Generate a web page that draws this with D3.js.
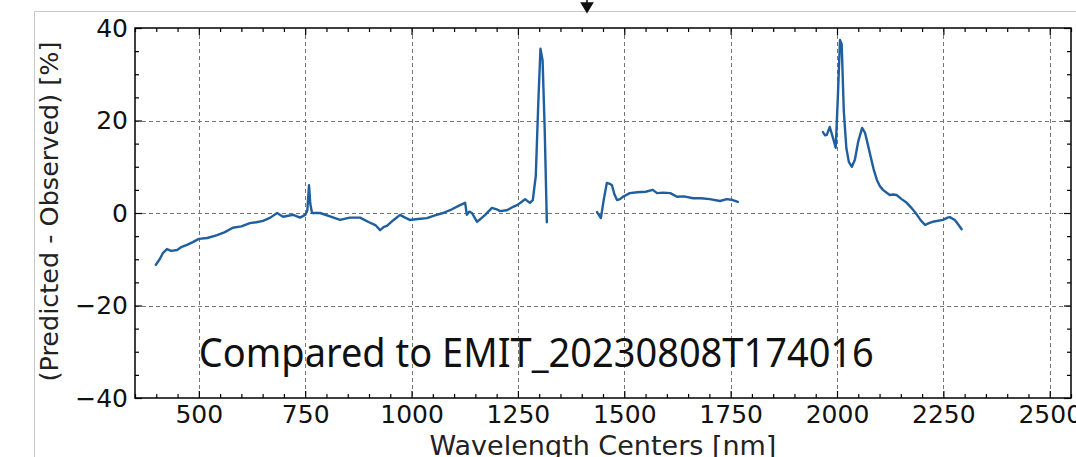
<!DOCTYPE html>
<html>
<head>
<meta charset="utf-8">
<script src="https://cdn.jsdelivr.net/npm/d3@7"></script>
<style>
  html, body { margin: 0; padding: 0; background: #fff; overflow: hidden; }
  svg { display: block; }
</style>
</head>
<body>
<svg id="chart" width="1076" height="457"></svg>
<script>
// Residual spectrum, three valid windows separated by water-absorption gaps
const seg1Wavelength = [399,408,416,425,435,449,460,472,486,500,520,543,560,580,600,620,635,651,668,684,698,710,722,738,750,755,759,762,766,785,810,832,855,879,900,915,926,935,942,958,973,985,996,1015,1036,1055,1074,1095,1114,1126,1130,1136,1142,1154,1163,1173,1189,1200,1208,1224,1236,1248,1260,1267,1278,1285,1292,1298,1303,1308,1313,1318];
const seg1Difference = [-11.2,-10.0,-8.6,-7.8,-8.2,-8.0,-7.3,-6.9,-6.3,-5.6,-5.4,-4.8,-4.2,-3.2,-2.9,-2.2,-2.0,-1.7,-1.0,0.0,-0.8,-0.6,-0.4,-1.0,-0.4,0.5,6.0,2.0,0.0,0.0,-0.8,-1.5,-1.0,-1.0,-2.0,-2.6,-3.7,-3.0,-2.8,-1.5,-0.4,-1.0,-1.5,-1.3,-1.1,-0.5,0.0,0.8,1.7,2.2,-0.4,0.3,0.0,-1.9,-1.2,-0.4,1.1,0.8,0.4,0.6,1.2,1.7,2.5,3.0,2.2,2.8,8.0,24.0,35.5,33.0,18.0,-2.0];

const seg2Wavelength = [1436,1445,1452,1459,1466,1471,1477,1483,1490,1497,1513,1530,1550,1567,1577,1592,1608,1624,1640,1662,1680,1701,1725,1741,1755,1767];
const seg2Difference = [0.2,-1.1,3.0,6.5,6.3,6.0,4.0,2.8,3.0,3.5,4.3,4.5,4.6,5.0,4.3,4.4,4.3,3.5,3.6,3.2,3.2,3.0,2.6,3.0,2.8,2.4];

const seg3Wavelength = [1967,1972,1976,1983,1990,1997,2002,2007,2011,2016,2022,2028,2035,2042,2050,2059,2066,2072,2077,2086,2094,2101,2108,2124,2132,2140,2152,2164,2176,2188,2197,2207,2216,2225,2249,2260,2265,2277,2285,2293];
const seg3Difference = [17.5,16.8,16.9,18.6,16.4,14.1,25.0,37.4,36.5,22.0,14.0,11.0,10.0,11.5,15.5,18.4,17.3,15.0,13.0,9.5,7.1,5.8,5.0,3.9,4.0,3.9,3.0,2.2,1.0,-0.4,-1.6,-2.6,-2.2,-1.9,-1.5,-1.0,-0.9,-1.5,-2.5,-3.5];

const xMajorTicks = [500,750,1000,1250,1500,1750,2000,2250,2500];
const yMajorTicks = [-40,-20,0,20,40];
const annotationText = "Compared to EMIT_20230808T174016";
const annotationAt = [500, -33.3];
const xLabel = "Wavelength Centers [nm]";
const yLabel = "(Predicted - Observed) [%]";

const svg = d3.select("#chart");
const plot = { left: 135, right: 1071, top: 28, bottom: 398 };
const lineColor = "#1f5f9e";

const x = d3.scaleLinear().domain([350, 2550]).range([plot.left, plot.right]);
const y = d3.scaleLinear().domain([-40, 40]).range([plot.bottom, plot.top]);

// figure frame
svg.append("path")
  .attr("d", "M34.5,457 V11.5 H1076")
  .attr("fill", "none").attr("stroke", "#c8c8c8").attr("stroke-width", 1);

// marker arrow above the axes
svg.append("path")
  .attr("d", "M587,0 V4 M581.5,3 L592.5,3 L587,12 Z")
  .attr("fill", "#111").attr("stroke", "#111").attr("stroke-width", 1.5);

const xMinor = d3.range(350, 2551, 50).filter(v => !xMajorTicks.includes(v));
const yMinor = d3.range(-40, 41, 5).filter(v => !yMajorTicks.includes(v));

// dashed grid at major ticks
const grid = svg.append("g").attr("stroke", "#555").attr("stroke-width", 1)
  .attr("stroke-dasharray", "4,3").attr("opacity", 0.8);
grid.selectAll(".gx").data(xMajorTicks.filter(v => x(v) < plot.right - 1)).join("line")
  .attr("x1", d => Math.round(x(d)) + 0.5).attr("x2", d => Math.round(x(d)) + 0.5)
  .attr("y1", plot.top).attr("y2", plot.bottom);
grid.selectAll(".gy").data(yMajorTicks.filter(v => v > -40 && v < 40)).join("line")
  .attr("x1", plot.left).attr("x2", plot.right)
  .attr("y1", d => Math.round(y(d)) + 0.5).attr("y2", d => Math.round(y(d)) + 0.5);

// data line
const line = d3.line().x(d => x(d[0])).y(d => y(d[1]));
const segments = [
  d3.zip(seg1Wavelength, seg1Difference),
  d3.zip(seg2Wavelength, seg2Difference),
  d3.zip(seg3Wavelength, seg3Difference)
];
svg.append("g").selectAll("path").data(segments).join("path")
  .attr("d", line)
  .attr("fill", "none").attr("stroke", lineColor)
  .attr("stroke-width", 2.4).attr("stroke-linejoin", "round").attr("stroke-linecap", "round");

// axes: inward ticks on all four sides
const tickFont = "DejaVu Sans, sans-serif";
function styleAxis(g) {
  g.select(".domain").remove();
  g.selectAll(".tick line").attr("stroke", "#000").attr("stroke-width", 1.2);
}
const bottomMajor = d3.axisBottom(x).tickValues(xMajorTicks).tickSizeInner(-7).tickSizeOuter(0).tickPadding(7).tickFormat(d3.format("d"));
const bottomMinor = d3.axisBottom(x).tickValues(xMinor).tickSizeInner(-4).tickSizeOuter(0).tickFormat("");
const topMajor = d3.axisTop(x).tickValues(xMajorTicks).tickSizeInner(-7).tickSizeOuter(0).tickFormat("");
const topMinor = d3.axisTop(x).tickValues(xMinor).tickSizeInner(-4).tickSizeOuter(0).tickFormat("");
const leftMajor = d3.axisLeft(y).tickValues(yMajorTicks).tickSizeInner(-7).tickSizeOuter(0).tickPadding(7).tickFormat(d => d < 0 ? "\u2212" + Math.abs(d) : d);
const leftMinor = d3.axisLeft(y).tickValues(yMinor).tickSizeInner(-4).tickSizeOuter(0).tickFormat("");
const rightMajor = d3.axisRight(y).tickValues(yMajorTicks).tickSizeInner(-7).tickSizeOuter(0).tickFormat("");
const rightMinor = d3.axisRight(y).tickValues(yMinor).tickSizeInner(-4).tickSizeOuter(0).tickFormat("");

[[bottomMajor, `translate(0,${plot.bottom})`], [bottomMinor, `translate(0,${plot.bottom})`],
 [topMajor, `translate(0,${plot.top})`], [topMinor, `translate(0,${plot.top})`],
 [leftMajor, `translate(${plot.left},0)`], [leftMinor, `translate(${plot.left},0)`],
 [rightMajor, `translate(${plot.right},0)`], [rightMinor, `translate(${plot.right},0)`]]
  .forEach(([ax, tr]) => {
    const g = svg.append("g").attr("transform", tr).call(ax);
    styleAxis(g);
    g.selectAll("text").attr("font-family", tickFont).attr("font-size", 25).attr("fill", "#111");
  });

// spines
svg.append("rect")
  .attr("x", plot.left).attr("y", plot.top)
  .attr("width", plot.right - plot.left).attr("height", plot.bottom - plot.top)
  .attr("fill", "none").attr("stroke", "#000").attr("stroke-width", 1.5);

// axis titles
svg.append("text")
  .attr("x", 603).attr("y", 455)
  .attr("text-anchor", "middle")
  .attr("font-family", tickFont).attr("font-size", 27).attr("fill", "#222")
  .text(xLabel);
svg.append("text")
  .attr("transform", `translate(58,${(35 + 388) / 2}) rotate(-90)`)
  .attr("text-anchor", "middle")
  .attr("font-family", tickFont).attr("font-size", 25.5).attr("fill", "#222")
  .text(yLabel);

// annotation
svg.append("text")
  .attr("x", x(annotationAt[0])).attr("y", y(annotationAt[1]))
  .attr("font-family", "Noto Sans, sans-serif").attr("font-size", 40).attr("fill", "#111")
  .attr("textLength", 675).attr("lengthAdjust", "spacingAndGlyphs")
  .text(annotationText);
</script>
</body>
</html>
